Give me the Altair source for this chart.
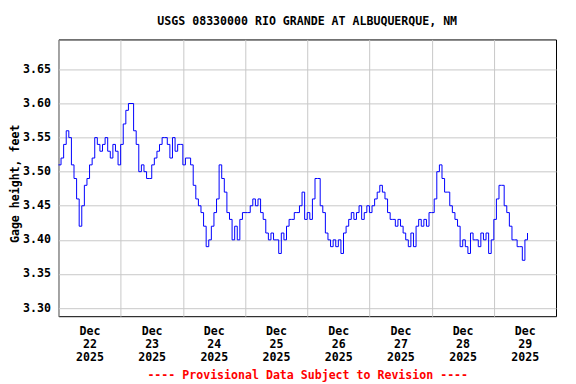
import json
import altair as alt
import pandas as pd

# hours since Dec 22 2025 00:00
hours = list(range(182))
gage_ft = [
    # Dec 22
    3.51, 3.52, 3.54, 3.56, 3.55, 3.51, 3.49, 3.46, 3.42, 3.45, 3.48, 3.49,
    3.51, 3.52, 3.55, 3.54, 3.53, 3.54, 3.55, 3.53, 3.52, 3.54, 3.53, 3.51,
    # Dec 23
    3.54, 3.57, 3.59, 3.60, 3.60, 3.56, 3.54, 3.50, 3.51, 3.50, 3.49, 3.49,
    3.51, 3.52, 3.53, 3.54, 3.55, 3.55, 3.54, 3.52, 3.55, 3.53, 3.54, 3.54,
    # Dec 24
    3.51, 3.52, 3.52, 3.51, 3.48, 3.46, 3.45, 3.44, 3.42, 3.39, 3.40, 3.42,
    3.44, 3.46, 3.51, 3.49, 3.47, 3.44, 3.43, 3.40, 3.42, 3.40, 3.43, 3.44,
    # Dec 25
    3.44, 3.44, 3.45, 3.46, 3.45, 3.46, 3.44, 3.43, 3.41, 3.40, 3.41, 3.40,
    3.40, 3.38, 3.41, 3.40, 3.42, 3.43, 3.43, 3.44, 3.44, 3.45, 3.47, 3.43,
    # Dec 26
    3.44, 3.43, 3.46, 3.49, 3.49, 3.45, 3.44, 3.41, 3.40, 3.39, 3.40, 3.39,
    3.40, 3.38, 3.41, 3.42, 3.43, 3.44, 3.43, 3.44, 3.45, 3.43, 3.44, 3.45,
    # Dec 27
    3.44, 3.45, 3.46, 3.47, 3.48, 3.47, 3.46, 3.44, 3.43, 3.43, 3.42, 3.43,
    3.42, 3.41, 3.40, 3.39, 3.41, 3.39, 3.42, 3.43, 3.42, 3.43, 3.42, 3.44,
    # Dec 28
    3.44, 3.46, 3.50, 3.51, 3.49, 3.47, 3.47, 3.45, 3.44, 3.43, 3.42, 3.39,
    3.40, 3.39, 3.38, 3.41, 3.40, 3.40, 3.39, 3.41, 3.40, 3.41, 3.38, 3.40,
    # Dec 29
    3.43, 3.46, 3.48, 3.48, 3.45, 3.44, 3.42, 3.40, 3.40, 3.39, 3.39, 3.37,
    3.40, 3.41,
]

day_labels = ["22", "23", "24", "25", "26", "27", "28", "29"]
day_starts = [0, 24, 48, 72, 96, 120, 144, 168]
y_ticks = [3.30, 3.35, 3.40, 3.45, 3.50, 3.55, 3.60, 3.65]

df = pd.DataFrame({"hour": hours, "gage": gage_ft})

FONT = "DejaVu Sans Mono"
FS = 11.6
GRID = "#c8c8c8"

x_axis = alt.Axis(
    values=day_starts,
    grid=True, gridColor=GRID, gridWidth=1,
    ticks=False, tickSize=0, domain=False,
    labelExpr="['Dec', " + json.dumps(day_labels) + "[datum.value / 24], '2025']",
    labelOffset=31, labelFlush=False, labelOverlap=False, labelAlign="center",
    labelFont=FONT, labelFontSize=FS, labelFontWeight="bold", labelColor="black",
    labelBaseline="alphabetic", labelPadding=18.5, labelLineHeight=13,
    title="---- Provisional Data Subject to Revision ----",
    titleFont=FONT, titleFontSize=FS, titleFontWeight="bold", titleColor="#ff0000",
    titleBaseline="alphabetic", titleY=62,
)

y_axis = alt.Axis(
    values=y_ticks, format=".2f",
    grid=True, gridColor=GRID, gridWidth=1,
    ticks=False, tickSize=0, domain=False,
    labelFont=FONT, labelFontSize=FS, labelFontWeight="bold", labelColor="black",
    labelPadding=8,
    title="Gage height, feet",
    titleFont=FONT, titleFontSize=FS, titleFontWeight="bold", titleColor="black",
    titleBaseline="alphabetic", titleX=-39.5, titleY=144, titleAngle=270,
)

chart = (
    alt.Chart(df)
    .mark_line(color="#0000ff", strokeWidth=1, interpolate="step-after")
    .encode(
        x=alt.X("hour:Q", scale=alt.Scale(domain=[0, 192], nice=False, zero=False), axis=x_axis),
        y=alt.Y("gage:Q", scale=alt.Scale(domain=[3.288, 3.694], nice=False, zero=False), axis=y_axis),
    )
    .properties(
        width=498, height=277,
        autosize=alt.AutoSizeParams(type="none"),
        padding={"left": 50.5, "top": 31.3, "right": 12, "bottom": 67.5},
        background="white",
        title=alt.TitleParams(
            "USGS 08330000 RIO GRANDE AT ALBUQUERQUE, NM",
            font=FONT, fontSize=FS, fontWeight="bold", color="black",
            anchor="middle", frame="group", baseline="alphabetic", offset=3,
        ),
    )
    .configure_view(stroke="black", strokeWidth=1)
)

chart.save("out.html", embed_options={"renderer": "svg", "actions": False})
